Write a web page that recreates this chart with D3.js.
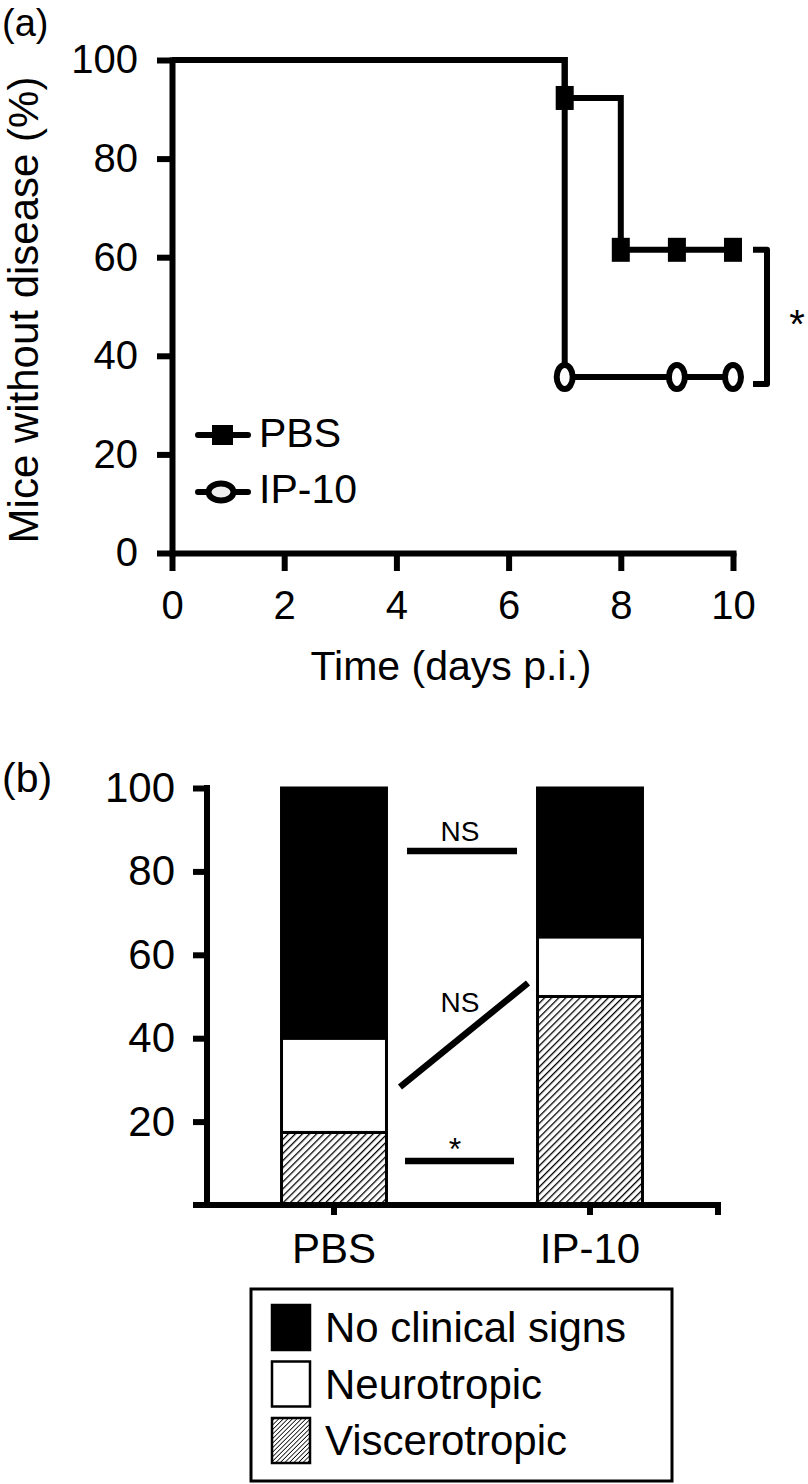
<!DOCTYPE html>
<html>
<head>
<meta charset="utf-8">
<script src="https://cdn.jsdelivr.net/npm/d3@7"></script>
<style>
  body { margin: 0; background: #fff; }
  svg { display: block; }
  text { font-family: "Liberation Sans", Arial, Helvetica, sans-serif; fill: #000; }
</style>
</head>
<body>
<script>
// panel (a): survival
const pbsDays = [0, 7, 8, 9, 10];
const pbsValues = [100, 92.3, 61.5, 61.5, 61.5];
const ip10Days = [0, 7, 9, 10];
const ip10Values = [100, 35.7, 35.7, 35.7];
const timeTicks = [0, 2, 4, 6, 8, 10];
const pctTicks = [0, 20, 40, 60, 80, 100];

// panel (b): outcome per group
const groups = ["PBS", "IP-10"];
const viscerotropic = [17.4, 50];
const neurotropic = [22.6, 14.3];
const noSigns = [60, 35.7];
const outcomeKeys = ["Viscerotropic", "Neurotropic", "No clinical signs"];
const legendKeys = ["No clinical signs", "Neurotropic", "Viscerotropic"];
const barTicks = [20, 40, 60, 80, 100];

const width = 808, height = 1484;

const svg = d3.select("body").append("svg")
    .attr("width", width)
    .attr("height", height);

const defs = svg.append("defs");
function hatch(id, size, sw) {
    defs.append("pattern")
        .attr("id", id)
        .attr("patternUnits", "userSpaceOnUse")
        .attr("width", size).attr("height", size)
        .attr("patternTransform", "rotate(45)")
        .call(p => {
            p.append("rect").attr("width", size).attr("height", size).attr("fill", "#fff");
            p.append("line").attr("x1", 0).attr("y1", 0).attr("x2", 0).attr("y2", size)
                .attr("stroke", "#000").attr("stroke-width", sw);
        });
}
hatch("hatch", 5, 2.6);
hatch("hatchSmall", 3.2, 1.6);

const fills = {
    "No clinical signs": "#000",
    "Neurotropic": "#fff",
    "Viscerotropic": "url(#hatch)"
};

function styleAxis(g, sw) {
    g.selectAll("path.domain").attr("stroke", "#000").attr("stroke-width", sw).attr("stroke-linecap", "square");
    g.selectAll(".tick line").attr("stroke", "#000").attr("stroke-width", sw);
    g.selectAll(".tick text").attr("fill", "#000").attr("font-family", null);
}

// ---------- panel (a) ----------
const x = d3.scaleLinear().domain([0, 10]).range([172, 733]);
const y = d3.scaleLinear().domain([0, 100]).range([553, 60]);

svg.append("text").attr("x", 2).attr("y", 36).attr("font-size", 38).text("(a)");

const gxA = svg.append("g")
    .attr("transform", "translate(0," + y(0) + ")")
    .call(d3.axisBottom(x).tickValues(timeTicks).tickSize(18).tickSizeOuter(0).tickPadding(20))
    .attr("font-size", 40);
styleAxis(gxA, 6);

const gyA = svg.append("g")
    .attr("transform", "translate(" + x(0) + ",0)")
    .call(d3.axisLeft(y).tickValues(pctTicks).tickSize(15).tickSizeOuter(0).tickPadding(19))
    .attr("font-size", 40);
styleAxis(gyA, 6);

svg.append("text")
    .attr("transform", "translate(38," + 310 + ") rotate(-90)")
    .attr("text-anchor", "middle")
    .attr("font-size", 42)
    .text("Mice without disease (%)");

svg.append("text")
    .attr("x", 451).attr("y", 680)
    .attr("text-anchor", "middle")
    .attr("font-size", 41)
    .text("Time (days p.i.)");

const step = d3.line()
    .x(d => x(d[0]))
    .y(d => y(d[1]))
    .curve(d3.curveStepAfter);

const pbsPts = pbsDays.map((d, i) => [d, pbsValues[i]]);
const ip10Pts = ip10Days.map((d, i) => [d, ip10Values[i]]);

svg.append("path").datum(ip10Pts)
    .attr("d", step).attr("fill", "none")
    .attr("stroke", "#000").attr("stroke-width", 6).attr("stroke-linejoin", "miter");
svg.append("path").datum(pbsPts)
    .attr("d", step).attr("fill", "none")
    .attr("stroke", "#000").attr("stroke-width", 6).attr("stroke-linejoin", "miter");

svg.selectAll(".sq").data(pbsPts.filter(d => d[0] > 0))
    .enter().append("rect")
    .attr("class", "sq")
    .attr("x", d => x(d[0]) - 9).attr("y", d => y(d[1]) - 12)
    .attr("width", 18).attr("height", 24)
    .attr("fill", "#000");

svg.selectAll(".ci").data(ip10Pts.filter(d => d[0] > 0))
    .enter().append("ellipse")
    .attr("class", "ci")
    .attr("cx", d => x(d[0])).attr("cy", d => y(d[1]))
    .attr("rx", 8).attr("ry", 12)
    .attr("fill", "#fff").attr("stroke", "#000").attr("stroke-width", 6);

// significance bracket
const bx = 767;
svg.append("path")
    .attr("d", "M753," + y(pbsValues[4]) + "H" + bx + "V" + (y(ip10Values[3]) + 7) + "H753")
    .attr("fill", "none").attr("stroke", "#000").attr("stroke-width", 6)
    .attr("stroke-linejoin", "round");
svg.append("text").attr("x", 797).attr("y", 338)
    .attr("text-anchor", "middle").attr("font-size", 40).text("*");

// legend (a)
const legA = svg.append("g");
[["PBS", 435, 447], ["IP-10", 492, 503]].forEach(function(item, i) {
    legA.append("line")
        .attr("x1", 198).attr("x2", 248).attr("y1", item[1]).attr("y2", item[1])
        .attr("stroke", "#000").attr("stroke-width", 6).attr("stroke-linecap", "round");
    if (i === 0) {
        legA.append("rect").attr("x", 212).attr("y", item[1] - 10)
            .attr("width", 21).attr("height", 20).attr("fill", "#000");
    } else {
        legA.append("ellipse").attr("cx", 221).attr("cy", item[1])
            .attr("rx", 12.5).attr("ry", 8.5)
            .attr("fill", "#eee").attr("stroke", "#000").attr("stroke-width", 6);
    }
    legA.append("text").attr("x", 259).attr("y", item[2])
        .attr("font-size", 41).text(item[0]);
});

// ---------- panel (b) ----------
const xb = d3.scaleBand().domain(groups).range([206, 718])
    .paddingInner(0.59).paddingOuter(0.295);
const yb = d3.scaleLinear().domain([0, 100]).range([1205, 788]);

svg.append("text").attr("x", 2).attr("y", 792).attr("font-size", 41).text("(b)");

const table = groups.map((g, i) => ({
    group: g,
    "Viscerotropic": viscerotropic[i],
    "Neurotropic": neurotropic[i],
    "No clinical signs": noSigns[i]
}));
const series = d3.stack().keys(outcomeKeys)(table);

svg.append("g").selectAll("g")
    .data(series)
    .enter().append("g")
    .attr("fill", d => fills[d.key])
    .selectAll("rect")
    .data(d => d)
    .enter().append("rect")
    .attr("x", d => xb(d.data.group))
    .attr("y", d => yb(d[1]))
    .attr("width", xb.bandwidth())
    .attr("height", d => yb(d[0]) - yb(d[1]))
    .attr("stroke", "#000").attr("stroke-width", 3);

const gyB = svg.append("g")
    .attr("transform", "translate(207,0)")
    .call(d3.axisLeft(yb).tickValues(barTicks).tickSize(14).tickSizeOuter(0).tickPadding(18))
    .attr("font-size", 42);
styleAxis(gyB, 6);
gyB.select("path.domain").attr("d", "M0," + yb(100) + "V" + yb(0));

const gxB = svg.append("g")
    .attr("transform", "translate(0," + yb(0) + ")")
    .call(d3.axisBottom(xb).tickSize(10).tickSizeOuter(10).tickPadding(18))
    .attr("font-size", 42);
styleAxis(gxB, 6);
gxB.select("path.domain").attr("d", "M193,0H718V10").attr("stroke-linecap", "butt");

// comparison marks
const ann = svg.append("g");
ann.append("line").attr("x1", 407).attr("x2", 517).attr("y1", 851).attr("y2", 851)
    .attr("stroke", "#000").attr("stroke-width", 6.5);
ann.append("text").attr("x", 460).attr("y", 841).attr("text-anchor", "middle")
    .attr("font-size", 28).text("NS");
ann.append("line").attr("x1", 400).attr("x2", 528).attr("y1", 1087).attr("y2", 983)
    .attr("stroke", "#000").attr("stroke-width", 6.5);
ann.append("text").attr("x", 460).attr("y", 1012).attr("text-anchor", "middle")
    .attr("font-size", 28).text("NS");
ann.append("line").attr("x1", 405).attr("x2", 514).attr("y1", 1161).attr("y2", 1161)
    .attr("stroke", "#000").attr("stroke-width", 6.5);
ann.append("text").attr("x", 455).attr("y", 1160).attr("text-anchor", "middle")
    .attr("font-size", 32).text("*");

// legend (b)
const legB = svg.append("g");
legB.append("rect").attr("x", 251).attr("y", 1289).attr("width", 421).attr("height", 192)
    .attr("fill", "#fff").attr("stroke", "#000").attr("stroke-width", 3);
legendKeys.forEach(function(k, i) {
    const top = 1305 + i * 56.5;
    legB.append("rect").attr("x", 272).attr("y", top).attr("width", 38).attr("height", 45)
        .attr("fill", k === "Viscerotropic" ? "url(#hatchSmall)" : fills[k])
        .attr("stroke", "#000").attr("stroke-width", 2.5);
    legB.append("text").attr("x", 325).attr("y", top + 37)
        .attr("font-size", 42).text(k);
});
</script>
</body>
</html>
